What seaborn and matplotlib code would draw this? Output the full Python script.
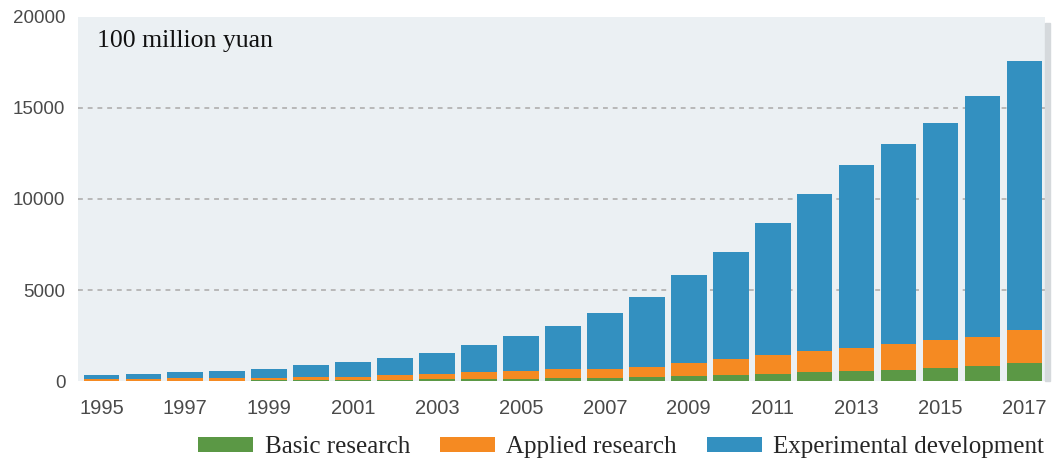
import pandas as pd
import matplotlib
matplotlib.use('Agg')
import matplotlib.pyplot as plt
import seaborn as sns
from matplotlib.patches import Patch, Rectangle

# R&D expenditure by activity type, 100 million yuan
years = list(range(1995, 2018))
basic = [18, 20, 27, 29, 34, 47, 56, 74, 88, 117, 131, 156, 175, 221, 270, 325,
         412, 499, 555, 614, 716, 823, 976]
applied = [92, 99, 133, 125, 152, 152, 185, 247, 311, 401, 434, 489, 493, 575, 731, 894,
           1028, 1162, 1269, 1399, 1529, 1611, 1849]
experimental = [239, 285, 349, 398, 494, 697, 802, 967, 1141, 1449, 1885, 2358, 3043, 3820,
                4801, 5844, 7247, 8638, 10023, 11004, 11925, 13243, 14781]

labels = ['Basic research', 'Applied research', 'Experimental development']
colors = ['#5b9845', '#f58a22', '#3390c0']

df = pd.DataFrame({'year': [str(y) for y in years], 'basic': basic,
                   'applied': applied, 'experimental': experimental})
df['applied_top'] = df['basic'] + df['applied']
df['total'] = df['applied_top'] + df['experimental']

sns.set_style('white')
fig = plt.figure(figsize=(10.53, 4.71), dpi=100)
ax = fig.add_axes([0.074, 0.191, 0.918, 0.773])
ax.set_facecolor('#ebf0f3')

# soft shadow on the right edge of the panel
fig.patches.append(Rectangle((0.992, 0.191), 0.005, 0.76, transform=fig.transFigure,
                             color='#d5d9dc', zorder=0))

for col, c in zip(['total', 'applied_top', 'basic'], colors[::-1]):
    sns.barplot(data=df, x='year', y=col, color=c, width=0.85, saturation=1,
                linewidth=0, ax=ax, zorder=3)

ax.set_xlim(-0.56, 22.48)
ax.set_ylim(0, 20000)
ax.set_yticks([0, 5000, 10000, 15000, 20000])
ax.set_xticks(range(0, 23, 2))
ax.set_xticklabels([str(y) for y in years[::2]])
ax.set_xlabel('')
ax.set_ylabel('')
for s in ax.spines.values():
    s.set_visible(False)
ax.tick_params(axis='both', length=0, labelsize=13.5, labelcolor='#4a4a4a')
ax.tick_params(axis='y', pad=9)
ax.tick_params(axis='x', pad=13, labelsize=14.5)
for t in ax.get_xticklabels() + ax.get_yticklabels():
    t.set_fontfamily('Liberation Sans')

for v in [5000, 10000, 15000]:
    ax.axhline(v, color='#b8b8b8', linestyle=(0, (2.5, 2.5)), linewidth=1.4, zorder=1)

ax.text(0.02, 0.935, '100 million yuan', transform=ax.transAxes, ha='left', va='center',
        fontsize=18.5, family='Liberation Serif', color='#111111')

handles = [Patch(facecolor=c, edgecolor='none') for c in colors]
fig.legend(handles, labels, loc='center', bbox_to_anchor=(0.59, 0.05), ncol=3,
           frameon=False, prop={'family': 'Liberation Serif', 'size': 18},
           handlelength=2.2, handleheight=0.55, handletextpad=0.45, columnspacing=1.2)

plt.savefig('out.png', dpi=100)
